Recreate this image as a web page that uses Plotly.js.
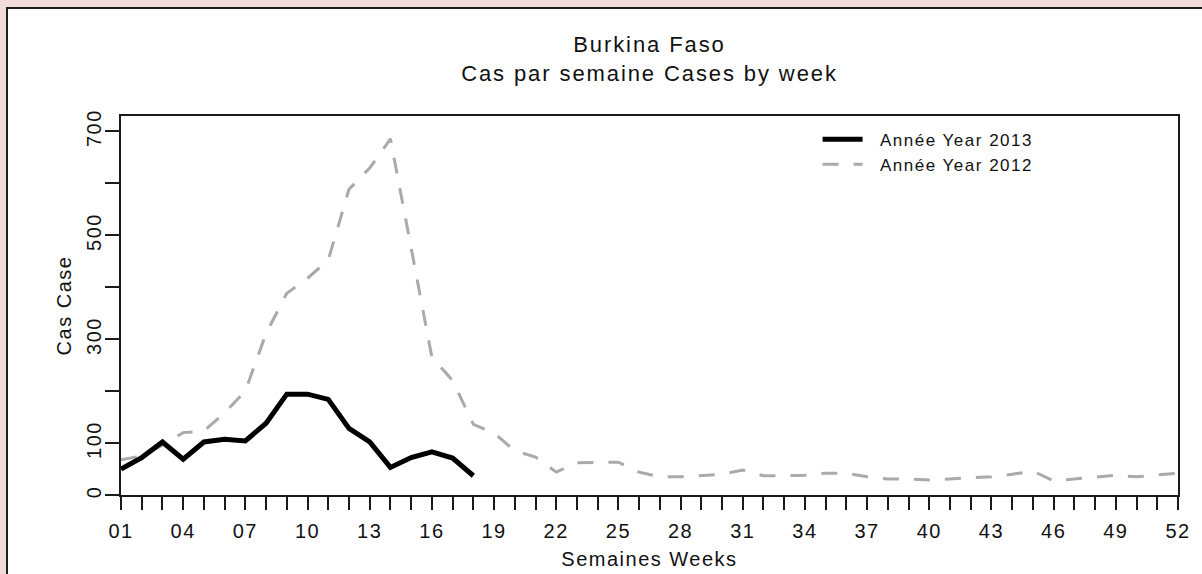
<!DOCTYPE html>
<html>
<head>
<meta charset="utf-8">
<script src="https://cdn.plot.ly/plotly-3.0.1.min.js"></script>
<style>
  html, body { margin: 0; padding: 0; background: #f2dcdb; width: 1202px; height: 574px; overflow: hidden; }
  #panel { position: absolute; left: 6px; top: 7px; width: 1300px; height: 700px; background: #ffffff;
           border-left: 2px solid #1e1e1e; border-top: 2px solid #1e1e1e; z-index: 0; }
  #chart { position: absolute; left: 0; top: 0; width: 1202px; height: 574px; z-index: 1; }
  svg text { letter-spacing: 1.5px; }
  svg .gtitle { letter-spacing: 1.9px; }
</style>
</head>
<body>
<div id="panel"></div>
<div id="chart"></div>
<script>
const weeks = Array.from({length: 52}, (_, i) => i + 1);
const weeks2013 = weeks.slice(0, 18);

const cases2013 = [50, 72, 102, 69, 102, 107, 104, 138, 194, 194, 184, 128, 102, 53, 72, 83, 71, 37];

const cases2012 = [68, 75, 96, 120, 123, 158, 200, 311, 388, 417, 452, 588, 629, 685, 475, 265,
                   220, 136, 119, 85, 73, 44, 62, 63, 63, 44, 35, 35, 37, 40, 48, 37, 37, 38,
                   42, 42, 35, 31, 31, 29, 31, 33, 35, 40, 46, 27, 31, 35, 38, 35, 38, 42];

const xTickLabels = weeks.map(w => ((w - 1) % 3 === 0 ? String(w).padStart(2, '0') : ''));
const yTickVals = [0, 100, 200, 300, 400, 500, 600, 700];
const yTickLabels = ['0', '100', '', '300', '', '500', '', '700'];

const seriesNames = ['\u00a0\u00a0Année Year 2012', '\u00a0\u00a0Année Year 2013'];
const titleText = 'Burkina Faso<br>Cas par semaine Cases by week';
const xTitle = 'Semaines Weeks';
const yTitle = 'Cas Case';

const FONT = 'Liberation Sans, Arial, sans-serif';
const INK = '#111111';

const traces = [
  {
    x: weeks, y: cases2012, type: 'scatter', mode: 'lines', name: seriesNames[0],
    line: {color: '#aaaaaa', width: 3, dash: '16px,15px'}
  },
  {
    x: weeks2013, y: cases2013, type: 'scatter', mode: 'lines', name: seriesNames[1],
    line: {color: '#000000', width: 5}
  }
];

const layout = {
  width: 1202, height: 574,
  paper_bgcolor: 'rgba(0,0,0,0)',
  plot_bgcolor: 'rgba(0,0,0,0)',
  margin: {l: 121, r: 24, t: 116, b: 79},
  font: {family: FONT, size: 20, color: INK},
  title: {
    text: titleText, font: {family: FONT, size: 22, color: INK},
    xref: 'paper', x: 0.5, xanchor: 'center',
    yref: 'container', y: 1 - 52 / 574, yanchor: 'top'
  },
  showlegend: true,
  legend: {
    x: 0.659, y: 0.985, xanchor: 'left', yanchor: 'top',
    bgcolor: 'rgba(0,0,0,0)', borderwidth: 0,
    traceorder: 'reversed', itemwidth: 40,
    font: {family: FONT, size: 17, color: INK}
  },
  xaxis: {
    range: [1, 52], tickmode: 'array', tickvals: weeks, ticktext: xTickLabels,
    ticks: 'outside', ticklen: 13, tickwidth: 2, tickcolor: '#1a1a1a',
    showline: true, linewidth: 2, linecolor: '#1a1a1a', mirror: true,
    showgrid: false, zeroline: false, tickangle: 0, ticklabelstandoff: 4,
    title: {text: xTitle, font: {family: FONT, size: 20, color: INK}, standoff: 11}
  },
  yaxis: {
    range: [0, 729], tickmode: 'array', tickvals: yTickVals, ticktext: yTickLabels,
    ticks: 'outside', ticklen: 14, tickwidth: 2, tickcolor: '#1a1a1a',
    showline: true, linewidth: 2, linecolor: '#1a1a1a', mirror: true,
    showgrid: false, zeroline: false, tickangle: -90, ticklabelstandoff: -4,
    title: {text: yTitle, font: {family: FONT, size: 20, color: INK}, standoff: 6}
  }
};

Plotly.newPlot('chart', traces, layout, {displayModeBar: false, staticPlot: true});
</script>
</body>
</html>
